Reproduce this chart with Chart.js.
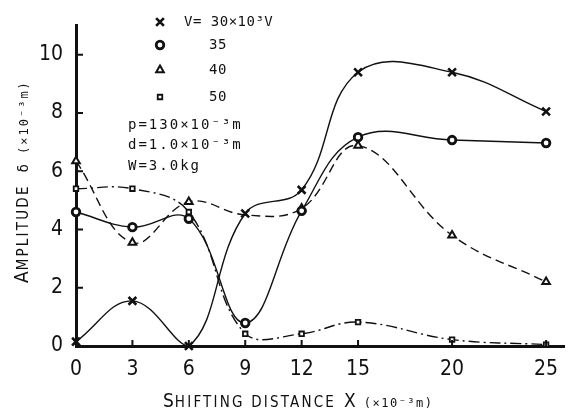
<!DOCTYPE html>
<html>
<head>
<meta charset="utf-8">
<script src="https://cdn.jsdelivr.net/npm/chart.js@4.4.1/dist/chart.umd.min.js"></script>
<style>
html, body { margin: 0; padding: 0; background: #fff; }
#wrap { width: 573px; height: 412px; position: relative; }
</style>
</head>
<body>
<div id="wrap"><canvas id="chart"></canvas></div>
<script>
// shifting distance X (x10^-3 m)
const distances = [0, 3, 6, 9, 12, 15, 20, 25];
const xTicks = [0, 3, 6, 9, 12, 15, 20, 25];
const yTicks = [0, 2, 4, 6, 8, 10];

// amplitude delta (x10^-3 m) for each applied voltage
const amp30 = [0.15, 1.55, 0.0, 4.55, 5.36, 9.4, 9.4, 8.05];
const amp35 = [4.6, 4.08, 4.37, 0.79, 4.64, 7.17, 7.07, 6.97];
const amp40 = [6.35, 3.55, 4.95, 4.5, 4.72, 6.88, 3.8, 2.2];
const amp50 = [5.4, 5.4, 4.6, 0.42, 0.42, 0.82, 0.22, 0.05];

const seriesLabels = ["V= 30×10³V", "35", "40", "50"];
const notes = ["p=130×10⁻³m", "d=1.0×10⁻³m", "W=3.0kg"];

const NARROW = "'Liberation Sans Narrow', 'DejaVu Sans Condensed', sans-serif";
const MONO = "'DejaVu Sans Mono', 'Liberation Mono', monospace";
const INK = "#111";

function pts(ys) {
    return distances.map((d, i) => ({x: d, y: ys[i]}));
}

function series(label, ys, style, extra) {
    return Object.assign({
        label: label,
        data: pts(ys),
        borderColor: INK,
        backgroundColor: "#fff",
        pointBorderColor: INK,
        pointBackgroundColor: "#fff",
        borderWidth: 1.4,
        tension: 0.4,
        clip: false,
        pointStyle: style.pointStyle,
        pointRadius: style.radius,
        pointBorderWidth: style.bw
    }, extra || {});
}

const markers = [
    {pointStyle: "crossRot", radius: 5.5, bw: 2.6},
    {pointStyle: "circle", radius: 3.8, bw: 2.8},
    {pointStyle: "triangle", radius: 4.4, bw: 2},
    {pointStyle: "rect", radius: 3.2, bw: 1.8}
];

// first letter big, the rest smaller, like the printed axis captions
function drawPieces(ctx, pieces, x, y) {
    let cx = x;
    pieces.forEach(p => {
        ctx.font = p.size + "px " + p.family;
        ctx.letterSpacing = (p.sp || 0) + "px";
        ctx.fillText(p.t, cx, y);
        cx += ctx.measureText(p.t).width + (p.gap || 0);
    });
}

const decor = {
    id: "decor",
    afterDraw(chart) {
        const {ctx, chartArea, scales: {x, y}} = chart;
        ctx.save();
        ctx.strokeStyle = INK;
        ctx.fillStyle = INK;
        ctx.lineWidth = 2;

        // inward tick marks
        yTicks.slice(1).forEach(v => {
            const py = y.getPixelForValue(v);
            ctx.beginPath();
            ctx.moveTo(chartArea.left, py);
            ctx.lineTo(chartArea.left + 7, py);
            ctx.stroke();
        });
        xTicks.slice(1).forEach(v => {
            const px = x.getPixelForValue(v);
            ctx.beginPath();
            ctx.moveTo(px, chartArea.bottom);
            ctx.lineTo(px, chartArea.bottom - 6);
            ctx.stroke();
        });

        // legend block
        const ly = [22, 45, 70, 97];
        chart.data.datasets.forEach((ds, i) => {
            const m = markers[i];
            ctx.lineWidth = m.bw;
            ctx.fillStyle = "#fff";
            ctx.strokeStyle = INK;
            Chart.helpers.drawPoint(ctx, {pointStyle: m.pointStyle, radius: m.radius, borderWidth: m.bw, rotation: 0}, 160, ly[i]);
            ctx.fillStyle = INK;
            ctx.font = "14px " + MONO;
            ctx.letterSpacing = "0.5px";
            ctx.textBaseline = "middle";
            ctx.fillText(seriesLabels[i], i === 0 ? 184 : 209, ly[i]);
        });

        // test conditions
        ctx.font = "14px " + MONO;
        ctx.letterSpacing = "2px";
        notes.forEach((t, i) => ctx.fillText(t, 128, 125 + i * 20.5));

        // x axis caption
        ctx.textBaseline = "alphabetic";
        drawPieces(ctx, [
            {t: "S", size: 19, family: NARROW, sp: 1},
            {t: "HIFTING DISTANCE", size: 15, family: NARROW, sp: 2.2, gap: 8},
            {t: "X", size: 19, family: NARROW, gap: 8},
            {t: "(×10⁻³m)", size: 12, family: MONO, sp: 1.5}
        ], 163, 407);

        // y axis caption, rotated
        ctx.translate(28, 283);
        ctx.rotate(-Math.PI / 2);
        drawPieces(ctx, [
            {t: "A", size: 19, family: NARROW, sp: 1},
            {t: "MPLITUDE", size: 15, family: NARROW, sp: 2.2, gap: 12},
            {t: "δ", size: 14, family: MONO, gap: 10},
            {t: "(×10⁻³m)", size: 12, family: MONO, sp: 2}
        ], 0, 0);
        ctx.restore();
    }
};

new Chart(document.getElementById("chart"), {
    type: "line",
    data: {
        datasets: [
            series(seriesLabels[0], amp30, markers[0]),
            series(seriesLabels[1], amp35, markers[1]),
            series(seriesLabels[2], amp40, markers[2], {borderDash: [9, 5], pointRadius: [4.4, 4.4, 4.4, 0, 4.4, 4.4, 4.4, 4.4]}),
            series(seriesLabels[3], amp50, markers[3], {borderDash: [11, 4, 2, 4]})
        ]
    },
    options: {
        responsive: true,
        maintainAspectRatio: false,
        animation: false,
        layout: {padding: {top: 12, right: 0, bottom: 0, left: 0}},
        plugins: {legend: {display: false}, tooltip: {enabled: false}},
        scales: {
            x: {
                type: "linear",
                min: 0,
                max: 26,
                afterBuildTicks: s => { s.ticks = xTicks.map(v => ({value: v})); },
                afterFit: s => { s.height = 66; },
                grid: {display: true, drawOnChartArea: false, drawTicks: false},
                border: {display: true, color: INK, width: 3},
                ticks: {color: INK, padding: 11, maxRotation: 0, font: {family: NARROW, size: 21}}
            },
            y: {
                min: 0,
                max: 11,
                afterBuildTicks: s => { s.ticks = yTicks.map(v => ({value: v})); },
                afterFit: s => { s.width = 76; },
                grid: {display: true, drawOnChartArea: false, drawTicks: false},
                border: {display: true, color: INK, width: 3},
                ticks: {color: INK, padding: 13, font: {family: NARROW, size: 21}}
            }
        }
    },
    plugins: [decor]
});
</script>
</body>
</html>
